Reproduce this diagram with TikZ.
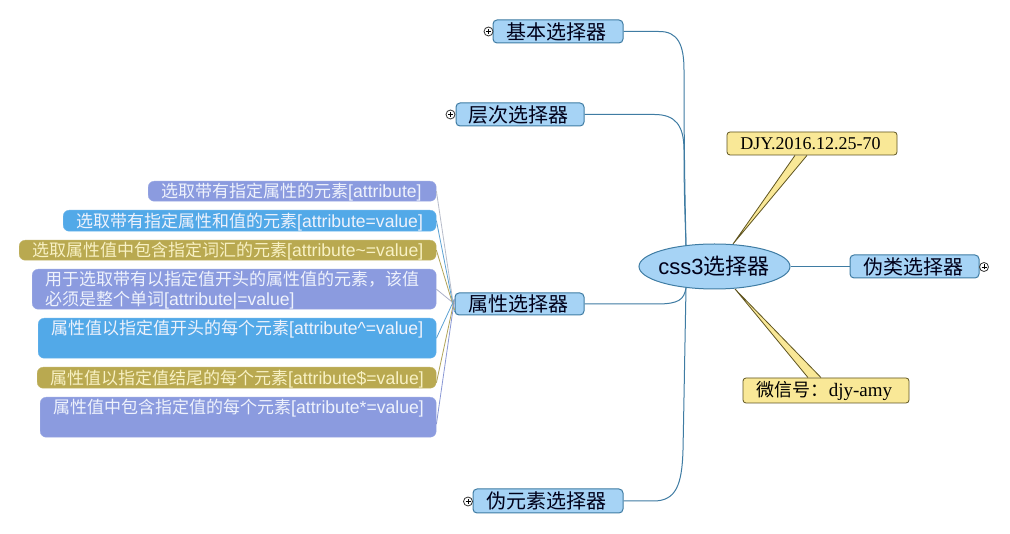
\documentclass[tikz,border=0pt]{standalone}
\usepackage{fontspec}
\setmainfont{Liberation Sans}
\newfontfamily\cjk{Noto Sans CJK SC}
\newfontfamily\serifl{Liberation Serif}
\newcommand{\zh}[1]{{\cjk #1}}
\newcommand{\zl}[1]{{\fontsize{17}{20}\selectfont\cjk #1}}
\newcommand{\tk}{\hspace*{-3pt}}
\newcommand{\lnx}[1]{\raisebox{-6.5pt}[0pt][0pt]{#1}}
\usetikzlibrary{backgrounds,shapes.geometric}
\definecolor{peri}{HTML}{8B9BDF}
\definecolor{skyb}{HTML}{52A9E8}
\definecolor{olive}{HTML}{B9A950}
\definecolor{topicf}{HTML}{A6D3F5}
\definecolor{topicd}{HTML}{3F7CA3}
\definecolor{notef}{HTML}{F9E897}
\definecolor{noted}{HTML}{5F5420}
\definecolor{paleb}{HTML}{EEF2FC}
\definecolor{paley}{HTML}{F8F1C4}
\tikzset{
  topic/.style={draw=topicd,fill=topicf,line width=1pt,rounded corners=4pt,inner sep=0pt,
    text=black!90!blue,font=\fontsize{20}{22}\selectfont},
  note/.style={draw=noted,fill=notef,line width=0.8pt,rounded corners=3pt,inner sep=0pt,
    text=black,font=\fontsize{18}{20}\selectfont\serifl},
  leaf/.style={rounded corners=6pt,inner xsep=13pt,inner ysep=0pt,align=left,
    font=\fontsize{17.6}{20}\selectfont,anchor=north west},
  peribox/.style={leaf,fill=peri,draw=peri!85!white,text=paleb},
  blubox/.style={leaf,fill=skyb,draw=skyb!85!white,text=paleb},
  olibox/.style={leaf,fill=olive,draw=olive!85!white,text=paley},
  mainlink/.style={draw=topicd,line width=1pt},
  wedgefill/.style={fill=notef},
  wedgeline/.style={draw=noted,line width=0.8pt},
  thin link/.style={line width=0.8pt},
  plusc/.style={circle,draw=black!80,fill=white,line width=0.8pt,minimum size=9pt,inner sep=0pt,
    path picture={\draw[line width=0.7pt,black] ([xshift=-2.5pt]path picture bounding box.center)--([xshift=2.5pt]path picture bounding box.center)
      ([yshift=-2.5pt]path picture bounding box.center)--([yshift=2.5pt]path picture bounding box.center);}},
}
\begin{document}
\begin{tikzpicture}[x=1pt,y=-1pt]
\useasboundingbox (0,0) rectangle (1010,534);

% root
\node[ellipse,draw=topicd,fill=topicf,line width=1pt,minimum width=151pt,minimum height=45pt,inner sep=0pt,
  font=\fontsize{22}{24}\selectfont,text=black!90!blue] (root) at (714.5,266.5) {\makebox[0pt]{\hspace*{-1pt}css3\zh{选择器}}};
\coordinate (rootN) at (686,245);
\coordinate (rootS) at (686,288);
\coordinate (tipN) at (733,244);
\coordinate (tipS) at (735,289);

% topics
\node[topic,minimum width=130pt,minimum height=23pt] (t1) at (558,31.5) {\tk\zh{基本选择器}};
\node[topic,minimum width=128pt,minimum height=23pt] (t2) at (520,114.5) {\tk\zh{层次选择器}};
\node[topic,minimum width=129pt,minimum height=22pt] (t3) at (519.5,304) {\tk\zh{属性选择器}};
\node[topic,minimum width=150pt,minimum height=24pt] (t4) at (548,501) {\tk\zh{伪元素选择器}};
\node[topic,minimum width=129pt,minimum height=23pt] (t5) at (914.5,266.5) {\tk\zh{伪类选择器}};

% notes
\node[note,minimum width=170pt,minimum height=23pt] (n1) at (812,143.5) {\tk DJY.2016.12.25-70};
\node[note,minimum width=166pt,minimum height=25pt] (n2) at (826,390.5) {\tk\zh{微信号：}{\fontsize{19}{20}\selectfont djy-amy}};

% collapse marks
\node[plusc] (p1) at (488.5,31.5) {};
\node[plusc] (p2) at (450.5,114.5) {};
\node[plusc] (p3) at (468,501.5) {};
\node[plusc] (p5) at (984,267) {};

% leaves
\node[peribox,minimum height=20pt,minimum width=288pt,text width=262pt] (b1) at (148,181) {\lnx{\zl{选取带有指定属性的元素}[attribute]}};
\node[blubox,minimum height=21pt,minimum width=373pt,text width=347pt] (b2) at (63,210) {\lnx{\zl{选取带有指定属性和值的元素}[attribute=value]}};
\node[olibox,minimum height=20pt,minimum width=417pt,text width=391pt] (b3) at (19,240) {\lnx{\zl{选取属性值中包含指定词汇的元素}[attribute\textasciitilde=value]}};
\node[peribox,minimum height=40pt,minimum width=404pt,text width=378pt] (b4) at (32,269) {\lnx{\zl{用于选取带有以指定值开头的属性值的元素，该值}}\\\lnx{\zl{必须是整个单词}[attribute|=value]}};
\node[blubox,minimum height=40pt,minimum width=398pt,text width=372pt] (b5) at (38,318) {\lnx{\zl{属性值以指定值开头的每个元素}[attribute\^{}=value]}\\\lnx{}};
\node[olibox,minimum height=21pt,minimum width=399pt,text width=373pt] (b6) at (37,367) {\lnx{\zl{属性值以指定值结尾的每个元素}[attribute\$=value]}};
\node[peribox,minimum height=40pt,minimum width=396pt,text width=370pt] (b7) at (40,397) {\lnx{\zl{属性值中包含指定值的每个元素}[attribute*=value]}\\\lnx{}};

\begin{pgfonlayer}{background}
  \fill[white] (0,0) rectangle (1010,534);
  % wedges
  \fill[wedgefill] ([xshift=-17pt]n1.south) -- (tipN) -- ([xshift=-5pt]n1.south) -- cycle;
  \draw[wedgeline] ([xshift=-17pt]n1.south) -- (tipN) -- ([xshift=-5pt]n1.south);
  \fill[wedgefill] ([xshift=-18pt]n2.north) -- (tipS) -- ([xshift=-5pt]n2.north) -- cycle;
  \draw[wedgeline] ([xshift=-18pt]n2.north) -- (tipS) -- ([xshift=-5pt]n2.north);
\end{pgfonlayer}

% main connectors
\draw[mainlink] (t1.east) -- ++(35,0) .. controls (678,31) and (684,45) .. (684,70) .. controls (684,150) and (685,200) .. (rootN);
\draw[mainlink] (t2.east) -- ++(70,0) .. controls (675,114.5) and (684,125) .. (684,150) .. controls (684,190) and (685,215) .. (rootN);
\draw[mainlink] (t3.east) -- ++(75,0) .. controls (678,303.5) and (684,300) .. (rootS);
\draw[mainlink] (t4.east) -- ++(30,0) .. controls (676,501) and (682,485) .. (683,450) .. controls (684,400) and (685,340) .. (rootS);
\draw[mainlink] (root.east) -- (t5.west);

% leaf connectors
\draw[thin link,peri!70!olive!70!white] (b1.east) -- ([yshift=-8pt]t3.west);
\draw[thin link,skyb!80!gray] (b2.east) -- ([yshift=-8pt]t3.west);
\draw[thin link,olive!85!gray] (b3.east) -- ([yshift=-6pt]t3.west);
\draw[thin link,peri!50!gray!70!white] (b4.east) -- (t3.west);
\draw[thin link,skyb!80!gray] (b5.east) -- ([yshift=5pt]t3.west);
\draw[thin link,olive!85!gray] ([yshift=-5pt]b6.east) -- ([yshift=5pt]t3.west);
\draw[thin link,peri!90!gray] ([yshift=-7pt]b7.east) -- ([yshift=5pt]t3.west);
\end{tikzpicture}
\end{document}
